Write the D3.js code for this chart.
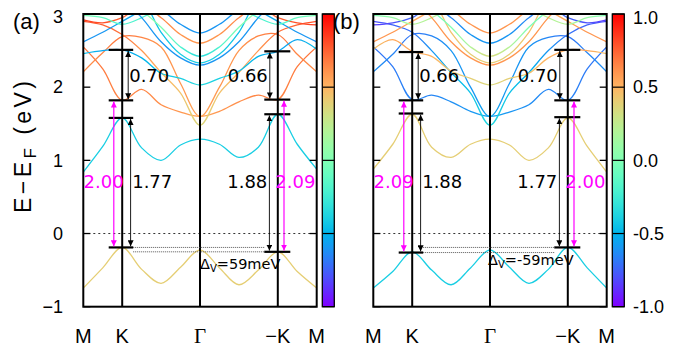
<!DOCTYPE html>
<html>
<head>
<meta charset="utf-8">
<script src="https://cdn.jsdelivr.net/npm/d3@7/dist/d3.min.js"></script>
<style>
  body { margin: 0; background: #fff; }
  text { font-family: "Liberation Sans", Arial, sans-serif; }
  .num { font-family: "DejaVu Sans", sans-serif; }
</style>
</head>
<body>
<svg id="chart" width="693" height="347"></svg>
<script>
// k path M-K-Γ-(-K)-M, sampled every half step
const kPts = [0, 0.5, 1, 1.5, 2, 2.5, 3, 3.5, 4, 4.5, 5, 5.5, 6];
const kTicks = [0, 1, 3, 5, 6];
const kLabels = ['M', 'K', 'Γ', '−K', 'M'];
const eTicks = [-1, 0, 1, 2, 3];
const eLabels = ['−1', '0', '1', '2', '3'];
const cbTicks = [1, 0.5, 0, -0.5, -1];
const cbLabels = ['1.0', '0.5', '0.0', '-0.5', '-1.0'];

// panel (a) bands (eV) and projected weight (-1..1)
const aVB  = [-0.745, -0.47, -0.19, -0.49, -0.68, -0.46, -0.225, -0.47, -0.70, -0.50, -0.25, -0.52, -0.745];
const aVBw = [0.4, 0.4, 0.4, 0.4, 0.4, 0.4, 0.4, 0.4, 0.4, 0.4, 0.4, 0.4, 0.4];
const aC1  = [0.84, 1.19, 1.58, 1.17, 1.00, 1.21, 1.29, 1.22, 1.04, 1.18, 1.63, 1.22, 0.88];
const aC1w = [-0.4, -0.4, -0.4, -0.4, -0.4, -0.4, -0.4, -0.4, -0.4, -0.4, -0.4, -0.4, -0.4];
const aC2  = [2.55, 2.25, 1.82, 1.97, 1.76, 1.66, 1.60, 1.67, 1.80, 1.89, 1.83, 2.28, 2.55];
const aC2w = [0.7, 0.68, 0.65, 0.65, 0.62, 0.6, 0.55, 0.6, 0.62, 0.65, 0.65, 0.68, 0.7];
const aC3  = [2.21, 2.47, 2.69, 2.68, 2.55, 2.05, 1.60, 2.00, 2.50, 2.70, 2.72, 2.45, 2.21];
const aC3w = [0.62, 0.65, 0.7, 0.65, 0.6, 0.6, 0.55, 0.6, 0.6, 0.65, 0.7, 0.65, 0.62];
const aC4  = [2.90, 2.85, 2.72, 2.50, 2.20, 1.92, 1.48, 1.92, 2.20, 2.50, 2.75, 2.85, 2.90];
const aC4w = [0.8, 0.75, 0.7, 0.6, 0.5, 0.45, 0.35, 0.45, 0.5, 0.6, 0.7, 0.75, 0.8];
const aC5  = [2.46, 2.50, 2.51, 2.40, 2.19, 2.12, 2.03, 2.12, 2.22, 2.42, 2.49, 2.65, 2.52];
const aC5w = [-0.45, -0.55, -0.55, -0.5, -0.45, -0.4, -0.35, -0.4, -0.45, -0.5, -0.55, -0.55, -0.45];
const aC6  = [3.30, 3.30, 3.30, 3.20, 2.75, 2.45, 2.33, 2.45, 2.75, 3.20, 3.30, 3.30, 3.30];
const aC6w = [-0.45, -0.45, -0.45, -0.45, -0.45, -0.4, -0.4, -0.4, -0.45, -0.45, -0.45, -0.45, -0.45];
const aC7  = [3.30, 3.30, 3.25, 3.05, 2.82, 2.55, 2.42, 2.55, 2.82, 3.05, 3.25, 3.30, 3.30];
const aC7w = [0.0, 0.1, 0.2, 0.1, 0.0, -0.2, -0.35, -0.2, 0.0, 0.1, 0.2, 0.1, 0.0];
const aC8  = [2.92, 2.88, 2.95, 3.10, 2.95, 2.72, 2.60, 2.72, 2.95, 3.10, 2.95, 2.88, 2.85];
const aC8w = [0.85, 0.8, 0.75, 0.7, 0.65, 0.6, 0.6, 0.6, 0.65, 0.7, 0.75, 0.8, 0.85];
const aC9  = [3.30, 3.20, 3.10, 3.10, 3.05, 2.86, 2.74, 2.86, 3.05, 3.10, 3.10, 3.20, 3.30];
const aC9w = [-0.6, -0.6, -0.6, -0.6, -0.6, -0.6, -0.6, -0.6, -0.6, -0.6, -0.6, -0.6, -0.6];
const aC10  = [2.62, 2.75, 2.90, 3.05, 3.20, 3.30, 3.30, 3.30, 3.20, 3.05, 2.90, 2.75, 2.62];
const aC10w = [-0.6, -0.6, -0.55, -0.55, -0.6, -0.6, -0.6, -0.6, -0.6, -0.55, -0.55, -0.6, -0.6];
const aC11  = [2.98, 2.95, 2.86, 2.95, 3.10, 3.30, 3.30, 3.30, 3.10, 2.95, 2.86, 2.95, 2.98];
const aC11w = [0.0, -0.1, -0.2, -0.2, -0.2, -0.2, -0.2, -0.2, -0.2, -0.2, -0.2, -0.1, 0.0];
const aC12  = [3.30, 3.30, 3.20, 2.95, 2.62, 2.40, 2.30, 2.40, 2.62, 2.95, 3.20, 3.30, 3.30];
const aC12w = [-0.6, -0.6, -0.6, -0.6, -0.6, -0.6, -0.6, -0.6, -0.6, -0.6, -0.6, -0.6, -0.6];

// panel (b) bands
const bVB  = [-0.745, -0.52, -0.25, -0.50, -0.70, -0.47, -0.225, -0.46, -0.68, -0.49, -0.19, -0.47, -0.745];
const bVBw = [-0.4, -0.4, -0.4, -0.4, -0.4, -0.4, -0.4, -0.4, -0.4, -0.4, -0.4, -0.4, -0.4];
const bC1  = [0.88, 1.22, 1.63, 1.18, 1.04, 1.22, 1.29, 1.21, 1.00, 1.17, 1.58, 1.19, 0.84];
const bC1w = [0.4, 0.4, 0.4, 0.4, 0.4, 0.4, 0.4, 0.4, 0.4, 0.4, 0.4, 0.4, 0.4];
const bC2  = [2.55, 2.28, 1.83, 1.89, 1.80, 1.67, 1.60, 1.66, 1.76, 1.97, 1.82, 2.25, 2.55];
const bC2w = [-0.7, -0.68, -0.65, -0.65, -0.62, -0.6, -0.55, -0.6, -0.62, -0.65, -0.65, -0.68, -0.7];
const bC3  = [2.21, 2.45, 2.72, 2.70, 2.50, 2.00, 1.60, 2.05, 2.55, 2.68, 2.69, 2.47, 2.21];
const bC3w = [-0.62, -0.65, -0.7, -0.65, -0.6, -0.6, -0.55, -0.6, -0.6, -0.65, -0.7, -0.65, -0.62];
const bC4  = [2.90, 2.85, 2.75, 2.50, 2.20, 1.92, 1.48, 1.92, 2.20, 2.50, 2.72, 2.85, 2.90];
const bC4w = [-0.8, -0.75, -0.7, -0.6, -0.5, -0.45, -0.35, -0.45, -0.5, -0.6, -0.7, -0.75, -0.8];
const bC5  = [2.52, 2.65, 2.49, 2.42, 2.22, 2.12, 2.03, 2.12, 2.19, 2.40, 2.51, 2.50, 2.46];
const bC5w = [0.45, 0.55, 0.55, 0.5, 0.45, 0.4, 0.35, 0.4, 0.45, 0.5, 0.55, 0.55, 0.45];
const bC6  = [3.30, 3.30, 3.30, 3.20, 2.75, 2.45, 2.33, 2.45, 2.75, 3.20, 3.30, 3.30, 3.30];
const bC6w = [0.45, 0.45, 0.45, 0.45, 0.45, 0.4, 0.4, 0.4, 0.45, 0.45, 0.45, 0.45, 0.45];
const bC7  = [3.30, 3.30, 3.25, 3.05, 2.82, 2.55, 2.42, 2.55, 2.82, 3.05, 3.25, 3.30, 3.30];
const bC7w = [0.0, -0.1, -0.2, -0.1, 0.0, 0.2, 0.35, 0.2, 0.0, -0.1, -0.2, -0.1, 0.0];
const bC8  = [2.85, 2.88, 2.95, 3.10, 2.95, 2.72, 2.60, 2.72, 2.95, 3.10, 2.95, 2.88, 2.92];
const bC8w = [-0.85, -0.8, -0.75, -0.7, -0.65, -0.6, -0.6, -0.6, -0.65, -0.7, -0.75, -0.8, -0.85];
const bC9  = [3.30, 3.20, 3.10, 3.10, 3.05, 2.86, 2.74, 2.86, 3.05, 3.10, 3.10, 3.20, 3.30];
const bC9w = [0.6, 0.6, 0.6, 0.6, 0.6, 0.6, 0.6, 0.6, 0.6, 0.6, 0.6, 0.6, 0.6];
const bC10  = [2.62, 2.75, 2.90, 3.05, 3.20, 3.30, 3.30, 3.30, 3.20, 3.05, 2.90, 2.75, 2.62];
const bC10w = [0.6, 0.6, 0.55, 0.55, 0.6, 0.6, 0.6, 0.6, 0.6, 0.55, 0.55, 0.6, 0.6];
const bC11  = [2.98, 2.95, 2.86, 2.95, 3.10, 3.30, 3.30, 3.30, 3.10, 2.95, 2.86, 2.95, 2.98];
const bC11w = [0.0, 0.1, 0.2, 0.2, 0.2, 0.2, 0.2, 0.2, 0.2, 0.2, 0.2, 0.1, 0.0];
const bC12  = [3.30, 3.30, 3.20, 2.95, 2.62, 2.40, 2.30, 2.40, 2.62, 2.95, 3.20, 3.30, 3.30];
const bC12w = [0.6, 0.6, 0.6, 0.6, 0.6, 0.6, 0.6, 0.6, 0.6, 0.6, 0.6, 0.6, 0.6];

// band edges marked at K and -K (eV): CBM+1, CBM', CBM, VBM
const aBarK  = [2.51, 1.82, 1.58, -0.19];
const aBarMK = [2.49, 1.83, 1.63, -0.25];
const bBarK  = [2.48, 1.82, 1.64, -0.26];
const bBarMK = [2.51, 1.82, 1.59, -0.19];
const aGaps = ['0.70', '2.00', '1.77', '0.66', '1.88', '2.09'];
const bGaps = ['0.66', '2.09', '1.88', '0.70', '1.77', '2.00'];

const svg = d3.select('#chart');
const defs = svg.append('defs');
const yTop = 14, yBot = 306.7;
const y = d3.scaleLinear().domain([-1, 3]).range([yBot, yTop]);

// gnuplot rgbformulae 33,13,10
function pal(v) {
  const t = (v + 1) / 2;
  const r = Math.min(1, Math.abs(2 * t - 0.5));
  const g = Math.max(0, Math.sin(Math.PI * t));
  const b = Math.max(0, Math.cos(Math.PI * t / 2));
  return d3.rgb(r * 255, g * 255, b * 255).formatHex();
}

function marker(id, color) {
  defs.append('marker').attr('id', id)
    .attr('markerUnits', 'userSpaceOnUse')
    .attr('markerWidth', 7).attr('markerHeight', 6)
    .attr('refX', 6).attr('refY', 3)
    .attr('orient', 'auto-start-reverse')
    .append('path').attr('d', 'M0,0 L6,3 L0,6 Z').attr('fill', color);
}
marker('arK', '#000');
marker('arM', '#ff00ff');

const panels = [
  { x0: 83.3, x1: 316.7, cb: 322.3, label: '(a)', labelX: 13, cbText: false, yText: true,
    bands: [[aVB, aVBw], [aC1, aC1w], [aC2, aC2w], [aC3, aC3w], [aC4, aC4w], [aC5, aC5w],
            [aC6, aC6w], [aC7, aC7w], [aC8, aC8w], [aC9, aC9w], [aC10, aC10w], [aC11, aC11w], [aC12, aC12w]],
    barK: aBarK, barMK: aBarMK, gaps: aGaps, delta: '=59meV', dX: 200, dY: 269 },
  { x0: 373.3, x1: 606.7, cb: 612.3, label: '(b)', labelX: 333, cbText: true, yText: false,
    bands: [[bVB, bVBw], [bC1, bC1w], [bC2, bC2w], [bC3, bC3w], [bC4, bC4w], [bC5, bC5w],
            [bC6, bC6w], [bC7, bC7w], [bC8, bC8w], [bC9, bC9w], [bC10, bC10w], [bC11, bC11w], [bC12, bC12w]],
    barK: bBarK, barMK: bBarMK, gaps: bGaps, delta: '=-59meV', dX: 488, dY: 265 }
];

panels.forEach((p, i) => {
  const x = d3.scaleLinear().domain([0, 6]).range([p.x0, p.x1]);
  const g = svg.append('g');

  defs.append('clipPath').attr('id', 'clip' + i)
    .append('rect').attr('x', p.x0).attr('y', yTop)
    .attr('width', p.x1 - p.x0).attr('height', yBot - yTop);

  const line = d3.line()
    .x((d, j) => x(kPts[j]))
    .y(d => y(d))
    .curve(d3.curveCatmullRom.alpha(0.5));

  const bandG = g.append('g').attr('clip-path', `url(#clip${i})`);
  p.bands.forEach((b, j) => {
    const gid = `grad${i}_${j}`;
    const lg = defs.append('linearGradient').attr('id', gid)
      .attr('gradientUnits', 'userSpaceOnUse')
      .attr('x1', p.x0).attr('x2', p.x1).attr('y1', 0).attr('y2', 0);
    b[1].forEach((w, m) => lg.append('stop').attr('offset', kPts[m] / 6).attr('stop-color', pal(w)));
    bandG.append('path').attr('d', line(b[0]))
      .attr('fill', 'none').attr('stroke', `url(#${gid})`).attr('stroke-width', 1.3);
  });

  // Fermi level
  g.append('line').attr('x1', p.x0).attr('x2', p.x1).attr('y1', y(0)).attr('y2', y(0))
    .attr('stroke', '#333').attr('stroke-width', 1).attr('stroke-dasharray', '2,3');

  // high symmetry lines
  [1, 3, 5].forEach(k => {
    g.append('line').attr('x1', x(k)).attr('x2', x(k)).attr('y1', yTop).attr('y2', yBot)
      .attr('stroke', '#000').attr('stroke-width', 2);
  });

  // ticks
  eTicks.forEach(e => {
    g.append('line').attr('x1', p.x0).attr('x2', p.x0 + 7).attr('y1', y(e)).attr('y2', y(e))
      .attr('stroke', '#000').attr('stroke-width', 1.3);
    g.append('line').attr('x1', p.x1 - 7).attr('x2', p.x1).attr('y1', y(e)).attr('y2', y(e))
      .attr('stroke', '#000').attr('stroke-width', 1.3);
  });

  g.append('rect').attr('x', p.x0).attr('y', yTop).attr('width', p.x1 - p.x0).attr('height', yBot - yTop)
    .attr('fill', 'none').attr('stroke', '#000').attr('stroke-width', 2);

  // x labels
  kTicks.forEach((k, j) => {
    const t = g.append('text').attr('x', x(k)).attr('y', 343).attr('text-anchor', 'middle')
      .attr('font-size', 20).text(kLabels[j]);
    if (kLabels[j] === 'Γ') t.style('font-family', '"Liberation Serif", serif').attr('font-size', 21);
  });

  if (p.yText) {
    eTicks.forEach((e, j) => {
      g.append('text').attr('x', 63).attr('y', Math.max(y(e), 17)).attr('dy', '0.35em')
        .attr('text-anchor', 'end').attr('font-size', 18).text(eLabels[j]);
    });
  }

  g.append('text').attr('x', p.labelX).attr('y', 29).attr('font-size', 22).text(p.label);

  // colour bar
  const cgid = 'cbar' + i;
  const cg = defs.append('linearGradient').attr('id', cgid).attr('x1', 0).attr('x2', 0).attr('y1', 1).attr('y2', 0);
  d3.range(0, 1.0001, 0.05).forEach(t => cg.append('stop').attr('offset', t).attr('stop-color', pal(t * 2 - 1)));
  const cy = d3.scaleLinear().domain([-1, 1]).range([yBot, yTop]);
  g.append('rect').attr('x', p.cb).attr('y', yTop).attr('width', 12).attr('height', yBot - yTop)
    .attr('fill', `url(#${cgid})`).attr('stroke', '#000').attr('stroke-width', 1.3);
  cbTicks.forEach((v, j) => {
    g.append('line').attr('x1', p.cb).attr('x2', p.cb + 12).attr('y1', cy(v)).attr('y2', cy(v))
      .attr('stroke', '#000').attr('stroke-width', 1.2);
    if (p.cbText) {
      g.append('text').attr('x', 633).attr('y', Math.max(cy(v), 18)).attr('dy', '0.35em')
        .attr('font-size', 18).text(cbLabels[j]);
    }
  });

  // band edge bars
  const xK = x(1), xMK = x(5);
  p.barK.forEach(e => g.append('line').attr('x1', xK - 13.5).attr('x2', xK + 11)
    .attr('y1', y(e)).attr('y2', y(e)).attr('stroke', '#000').attr('stroke-width', 2.2));
  p.barMK.forEach(e => g.append('line').attr('x1', xMK - 13.5).attr('x2', xMK + 12.5)
    .attr('y1', y(e)).attr('y2', y(e)).attr('stroke', '#000').attr('stroke-width', 2.2));

  // VBM guide lines
  [p.barK[3], p.barMK[3]].forEach(e => {
    g.append('line').attr('x1', xK + 11).attr('x2', xMK - 13.5).attr('y1', y(e)).attr('y2', y(e))
      .attr('stroke', '#555').attr('stroke-width', 1).attr('stroke-dasharray', '1,1');
  });

  function arrow(xp, e1, e2, col, mk) {
    g.append('line').attr('x1', xp).attr('x2', xp).attr('y1', y(e1) + 1.2).attr('y2', y(e2) - 1.2)
      .attr('stroke', col).attr('stroke-width', col === '#000' ? 0.9 : 1.2)
      .attr('marker-start', `url(#${mk})`).attr('marker-end', `url(#${mk})`);
  }
  function label(xp, yp, txt, col, anchor, size) {
    g.append('text').attr('class', 'num').attr('x', xp).attr('y', yp).attr('text-anchor', anchor)
      .attr('font-size', size).attr('fill', col).text(txt);
  }

  // at K
  arrow(xK + 6, p.barK[0], p.barK[1], '#000', 'arK');
  arrow(xK - 8.4, p.barK[1], p.barK[3], '#ff00ff', 'arM');
  arrow(xK + 8.4, p.barK[2], p.barK[3], '#000', 'arK');
  label(xK + 7, 81.7, p.gaps[0], '#000', 'start', 18);
  label(xK + 1.5, 188, p.gaps[1], '#ff00ff', 'end', 18);
  label(xK + 10, 188, p.gaps[2], '#000', 'start', 18);

  // at -K
  arrow(xMK - 8, p.barMK[0], p.barMK[1], '#000', 'arK');
  arrow(xMK - 8.4, p.barMK[2], p.barMK[3], '#000', 'arK');
  arrow(xMK + 6.2, p.barMK[1], p.barMK[3], '#ff00ff', 'arM');
  label(xMK - 10, 81.7, p.gaps[3], '#000', 'end', 18);
  label(xMK - 10.5, 188, p.gaps[4], '#000', 'end', 18);
  label(xMK - 2.5, 188, p.gaps[5], '#ff00ff', 'start', 18);

  // valence splitting
  const dt = g.append('text').attr('class', 'num').attr('x', p.dX).attr('y', p.dY).attr('font-size', 14.5);
  dt.append('tspan').text('Δ');
  dt.append('tspan').attr('font-size', 10).attr('dy', 3).text('V');
  dt.append('tspan').attr('dy', -3).text(p.delta);
});

// y axis title
const yt = svg.append('text').attr('transform', 'translate(31,147) rotate(-90)')
  .attr('text-anchor', 'middle').attr('font-size', 23)
  .attr('textLength', 132).attr('lengthAdjust', 'spacing');
yt.append('tspan').text('E−E');
yt.append('tspan').attr('font-size', 17).attr('dy', 5).text('F');
yt.append('tspan').attr('dy', -5).text(' (eV)');
</script>
</body>
</html>
